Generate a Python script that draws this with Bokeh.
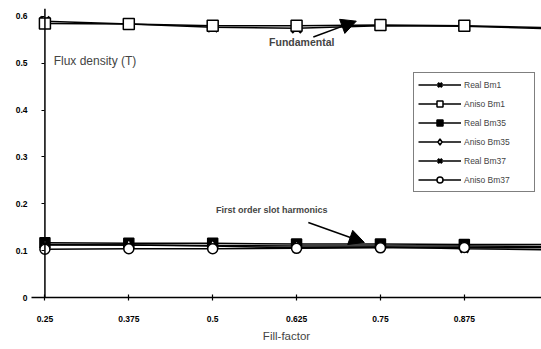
from bokeh.plotting import figure
from bokeh.models import Range1d, FixedTicker, Label, Arrow, NormalHead, Legend, LegendItem, Span
from bokeh.embed import file_html
from bokeh.resources import INLINE

fill_factor = [0.25, 0.375, 0.5, 0.625, 0.75, 0.875, 1.0]
real_bm1 = [0.590, 0.584, 0.577, 0.575, 0.580, 0.579, 0.574]
aniso_bm1 = [0.585, 0.584, 0.580, 0.580, 0.582, 0.580, 0.576]
real_bm35 = [0.117, 0.116, 0.116, 0.114, 0.114, 0.113, 0.113]
aniso_bm35 = [0.112, 0.112, 0.111, 0.110, 0.110, 0.110, 0.109]
real_bm37 = [0.113, 0.112, 0.110, 0.106, 0.108, 0.104, 0.102]
aniso_bm37 = [0.103, 0.104, 0.104, 0.105, 0.106, 0.107, 0.106]

x_ticks = [0.25, 0.375, 0.5, 0.625, 0.75, 0.875, 1.0]
x_tick_labels = ["0.25", "0.375", "0.5", "0.625", "0.75", "0.875", "1"]
y_ticks = [0, 0.1, 0.2, 0.3, 0.4, 0.5, 0.6]
y_tick_labels = ["0", "0.1", "0.2", "0.3", "0.4", "0.5", "0.6"]
y_axis_at = 0.25

p = figure(width=541, height=349, output_backend="svg", toolbar_location=None,
           x_range=Range1d(0.23, 0.99), y_range=Range1d(0, 0.617),
           min_border_left=31, min_border_right=0, min_border_top=8, min_border_bottom=52)
p.outline_line_color = None
p.xgrid.visible = False
p.ygrid.visible = False
p.background_fill_color = "white"

FONT = "Liberation Sans"

def style(ax):
    ax.axis_line_color = "black"
    ax.axis_line_width = 1.5
    ax.major_tick_line_color = "black"
    ax.major_tick_line_width = 1.2
    ax.minor_tick_line_color = None
    ax.major_label_text_font = FONT
    ax.major_label_text_font_style = "bold"
    ax.major_label_text_font_size = "8.5px"
    ax.major_label_text_color = "black"

style(p.xaxis[0])
p.xaxis.ticker = FixedTicker(ticks=x_ticks)
p.xaxis.major_label_overrides = dict(zip(x_ticks, x_tick_labels))
p.xaxis.major_tick_in = 3
p.xaxis.major_tick_out = 3
p.xaxis.major_label_standoff = 15
p.xaxis.axis_label = "Fill-factor"
p.xaxis.axis_label_text_font = FONT
p.xaxis.axis_label_text_font_style = "normal"
p.xaxis.axis_label_text_font_size = "11.5px"
p.xaxis.axis_label_standoff = 5

# y axis: labels in the left border, ticks shifted to sit on the line at fill-factor 0.25
yax = p.yaxis[0]
style(yax)
yax.ticker = FixedTicker(ticks=y_ticks)
yax.major_label_overrides = dict(zip(y_ticks, y_tick_labels))
yax.axis_line_color = None
yax.major_tick_in = 13
yax.major_tick_out = -10
yax.major_label_standoff = 4
p.add_layout(Span(location=y_axis_at, dimension="height", line_color="black", line_width=1.5))

series = [
    ("Real Bm1", real_bm1, "x", 13, "black", 2.5),
    ("Aniso Bm1", aniso_bm1, "square", 11, "white", 1.5),
    ("Real Bm35", real_bm35, "square", 10, "black", 1.5),
    ("Aniso Bm35", aniso_bm35, "diamond", 11, "white", 1.5),
    ("Real Bm37", real_bm37, "x", 11, "black", 2.5),
    ("Aniso Bm37", aniso_bm37, "circle", 10, "white", 1.5),
]

items = []
for name, ys, marker, size, fill, lw in series:
    ln = p.line(fill_factor, ys, line_color="black", line_width=1.5)
    sc = p.scatter(fill_factor, ys, marker=marker, size=size, fill_color=fill,
                   line_color="black", line_width=lw)
    items.append(LegendItem(label=name, renderers=[ln, sc]))

legend = Legend(items=items, location=(382, 105), border_line_color="black",
                border_line_width=1, background_fill_color="white",
                label_text_font=FONT, label_text_font_size="8.5px",
                glyph_width=43, glyph_height=15, label_height=15, label_width=66,
                spacing=4, padding=4, margin=0, label_standoff=3)
p.add_layout(legend)

p.add_layout(Label(x=0.263, y=0.504, text="Flux density (T)", text_font=FONT,
                   text_font_size="12px", text_baseline="middle"))
p.add_layout(Label(x=0.584, y=0.545, text="Fundamental", text_font=FONT,
                   text_font_size="10.5px", text_font_style="bold", text_baseline="middle"))
p.add_layout(Label(x=0.505, y=0.186, text="First order slot harmonics", text_font=FONT,
                   text_font_size="9px", text_font_style="bold", text_baseline="middle"))

p.add_layout(Arrow(x_start=0.65, y_start=0.556, x_end=0.714, y_end=0.590,
                   line_color="black", line_width=1.5,
                   end=NormalHead(size=15, fill_color="black", line_color="black")))
p.add_layout(Arrow(x_start=0.6425, y_start=0.160, x_end=0.726, y_end=0.1175,
                   line_color="black", line_width=1.5,
                   end=NormalHead(size=15, fill_color="black", line_color="black")))

open("out.html", "w").write(file_html(p, INLINE))
